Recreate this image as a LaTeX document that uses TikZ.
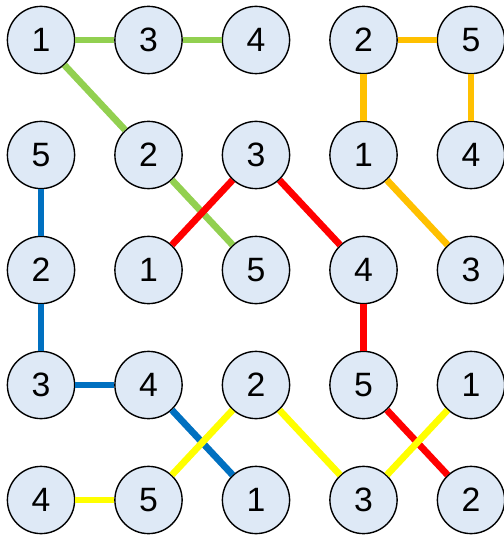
\documentclass[tikz,border=0pt]{standalone}
\usepackage{fontspec}
\setmainfont{Liberation Sans}
\usetikzlibrary{positioning}

\definecolor{cellfill}{HTML}{DEE9F6}
\definecolor{lgreen}{HTML}{92D050}
\definecolor{lorange}{HTML}{FFC000}
\definecolor{lblue}{HTML}{0070C0}
\definecolor{lred}{HTML}{FF0000}
\definecolor{lyellow}{HTML}{FFFF00}

\tikzset{
    cell/.style={circle, draw=black, line width=1pt, fill=cellfill,
        minimum size=1.68cm, inner sep=0pt,
        font=\fontsize{24}{28}\selectfont},
    link/.style={line width=4.8pt}
}

\begin{document}
\begin{tikzpicture}[x=0.025cm,y=-0.025cm]
    \useasboundingbox (0,0) rectangle (504,537);

    % grid of numbered circles
    \foreach [count=\r] \vals in {{1,3,4,2,5},{5,2,3,1,4},{2,1,5,4,3},
            {3,4,2,5,1},{4,5,1,3,2}}
        \foreach [count=\c] \v in \vals
            \node[cell] (n\r\c) at ({41+107.5*(\c-1)},{40+115*(\r-1)}) {\v};

    % paths
    \foreach \a/\b in {n11/n12,n12/n13,n11/n22,n22/n33}
        \draw[link, lgreen] (\a) -- (\b);
    \foreach \a/\b in {n14/n15,n14/n24,n15/n25,n24/n35}
        \draw[link, lorange] (\a) -- (\b);
    \foreach \a/\b in {n21/n31,n31/n41,n41/n42,n42/n53}
        \draw[link, lblue] (\a) -- (\b);
    \foreach \a/\b in {n32/n23,n23/n34,n34/n44,n44/n55}
        \draw[link, lred] (\a) -- (\b);
    \foreach \a/\b in {n51/n52,n52/n43,n43/n54,n54/n45}
        \draw[link, lyellow] (\a) -- (\b);
\end{tikzpicture}
\end{document}
